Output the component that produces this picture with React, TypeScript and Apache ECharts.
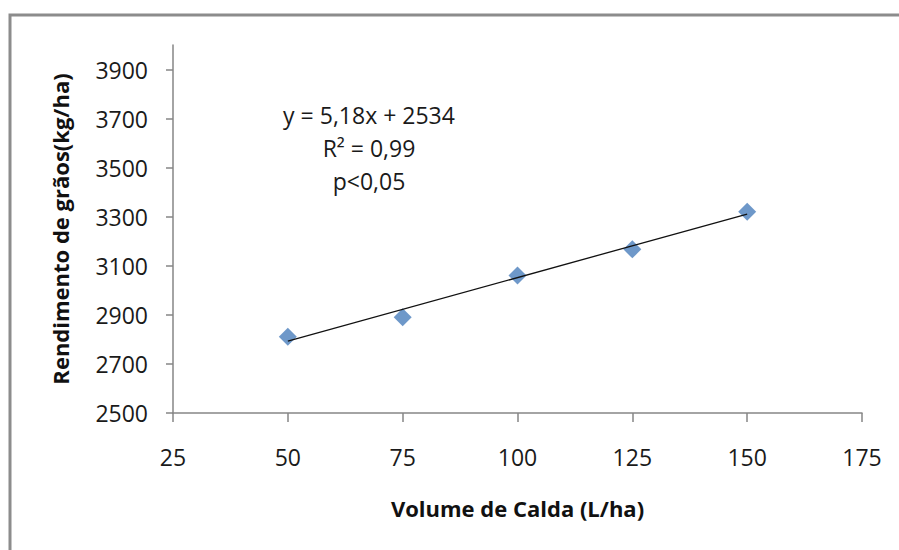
import React, { useEffect, useRef } from "react";
import * as echarts from "echarts";

const volumes = [50, 75, 100, 125, 150];
const yields = [2811, 2890, 3060, 3167, 3320];
const trendX = [50, 150];
const trendY = [2793, 3311];
const yTicks = [2500, 2700, 2900, 3100, 3300, 3500, 3700, 3900];
const xTicks = [25, 50, 75, 100, 125, 150, 175];
const annotations = ["y = 5,18x + 2534", "R² = 0,99", "p<0,05"];
const xTitle = "Volume de Calda (L/ha)";
const yTitle = "Rendimento de grãos(kg/ha)";

const FONT = "'Open Sans', sans-serif";

export default function App() {
  const ref = useRef<HTMLDivElement>(null);
  useEffect(() => {
    if (!ref.current) return;
    const chart = echarts.init(ref.current, undefined, { renderer: "svg" });
    chart.setOption({
      animation: false,
      backgroundColor: "#ffffff",
      grid: { left: 173, right: 37, top: 45, bottom: 137, containLabel: false },
      xAxis: {
        type: "value",
        min: 25,
        max: 175,
        interval: 25,
        name: xTitle,
        nameLocation: "middle",
        nameGap: 84,
        nameTextStyle: { fontFamily: FONT, fontSize: 22, fontWeight: "bold", color: "#111" },
        axisLine: { show: true, lineStyle: { color: "#868686", width: 1.5 } },
        axisTick: { show: true, inside: false, length: 9, lineStyle: { color: "#868686", width: 1.5 }, customValues: xTicks },
        axisLabel: {
          margin: 32,
          fontFamily: FONT,
          fontSize: 23,
          color: "#1a1a1a",
          customValues: xTicks,
          formatter: (v: number) => String(v),
        },
        splitLine: { show: false },
      },
      yAxis: {
        type: "value",
        min: 2500,
        max: 4000,
        name: yTitle,
        nameLocation: "middle",
        nameGap: 102,
        nameRotate: 90,
        nameTextStyle: { fontFamily: FONT, fontSize: 22, fontWeight: "bold", color: "#111" },
        axisLine: { show: true, lineStyle: { color: "#868686", width: 1.5 } },
        axisTick: { show: true, inside: false, length: 7, lineStyle: { color: "#868686", width: 1.5 }, customValues: yTicks },
        axisLabel: {
          margin: 25,
          fontFamily: FONT,
          fontSize: 23,
          color: "#1a1a1a",
          customValues: yTicks,
          formatter: (v: number) => String(v),
        },
        splitLine: { show: false },
      },
      series: [
        {
          type: "scatter",
          symbol: "diamond",
          symbolSize: 18,
          itemStyle: { color: "#4a7ebb" },
          data: volumes.map((v, i) => [v, yields[i]]),
          z: 2,
        },
        {
          type: "line",
          symbol: "none",
          lineStyle: { color: "#111", width: 1.3 },
          data: trendX.map((v, i) => [v, trendY[i]]),
          z: 3,
        },
      ],
      graphic: [
        {
          type: "rect",
          shape: { x: 10, y: 15, width: 1000, height: 1000 },
          style: { fill: "none", stroke: "#8c8c8c", lineWidth: 3 },
          silent: true,
        },
        ...annotations.map((t, i) => ({
          type: "text",
          x: 369,
          y: 115 + i * 33,
          style: {
            text: t,
            fontFamily: FONT,
            fontSize: 23,
            fill: "#1a1a1a",
            align: "center",
            verticalAlign: "middle",
          },
        })),
      ],
    });
    return () => chart.dispose();
  }, []);
  return (
    <div
      ref={ref}
      style={{ position: "fixed", left: 0, top: 0, width: 899, height: 550 }}
    />
  );
}
